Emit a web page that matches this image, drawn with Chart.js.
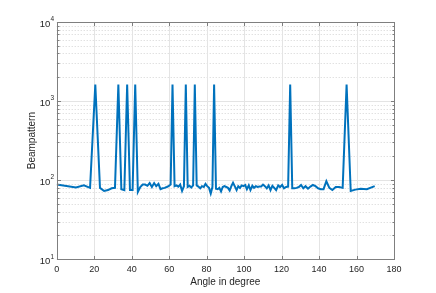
<!DOCTYPE html>
<html>
<head>
<meta charset="utf-8">
<script src="https://cdn.jsdelivr.net/npm/chart.js@4/dist/chart.umd.min.js"></script>
<style>
  body { margin: 0; background: #fff; }
  #wrap { width: 436px; height: 293px; position: relative; }
</style>
</head>
<body>
<div id="wrap"><canvas id="beam"></canvas></div>
<script>
// angle samples (deg) and beampattern values
var angles = [0, 10.3, 14.5, 17.8, 20.6, 23.1, 25.3, 27.4, 29.3, 31.1, 32.9, 34.5, 36.1, 37.6, 39.1, 40.5, 41.9, 43.3, 44.6, 45.9,
  47.2, 48.4, 49.6, 50.8, 52.0, 53.1, 54.3, 55.4, 56.5, 57.6, 58.7, 59.7, 60.8, 61.8, 62.9, 63.9, 64.9, 65.9, 66.9, 67.9,
  68.9, 69.9, 70.9, 71.8, 72.8, 73.7, 74.7, 75.6, 76.6, 77.5, 78.5, 79.4, 80.3, 81.3, 82.2, 83.1, 84.0, 85.0, 85.9, 86.8,
  87.7, 88.6, 89.5, 90.5, 91.4, 92.3, 93.2, 94.1, 95.0, 96.0, 96.9, 97.8, 98.7, 99.7, 100.6, 101.5, 102.5, 103.4, 104.4, 105.3,
  106.3, 107.2, 108.2, 109.1, 110.1, 111.1, 112.1, 113.1, 114.1, 115.1, 116.1, 117.1, 118.2, 119.2, 120.3, 121.3, 122.4, 123.5, 124.6, 125.7,
  126.9, 128.0, 129.2, 130.4, 131.6, 132.8, 134.1, 135.4, 136.7, 138.1, 139.5, 140.9, 142.4, 143.9, 145.5, 147.1, 148.9, 150.7, 152.6, 154.7,
  156.9, 159.4, 162.2, 165.5, 169.7];

var beam = [88, 81, 86, 80, 1620, 80, 73, 75, 79, 80, 1620, 77, 75, 1620, 75, 75, 1620, 71, 82, 88,
  88, 85, 92, 82, 92, 84, 90, 77, 79, 80, 82, 84, 88, 1620, 84, 86, 83, 88, 73, 84,
  1620, 82, 85, 81, 86, 1620, 86, 83, 79, 84, 82, 90, 84, 80, 68, 82, 1620, 78, 77, 80,
  72, 82, 84, 82, 80, 74, 84, 93, 84, 75, 84, 80, 86, 84, 87, 77, 86, 75, 85, 80,
  84, 82, 83, 83, 88, 84, 79, 86, 75, 85, 80, 75, 86, 82, 87, 79, 82, 83, 1620, 79,
  79, 80, 82, 87, 79, 84, 78, 83, 87, 84, 79, 77, 77, 97, 80, 75, 82, 82, 80, 1620,
  73, 76, 78, 77, 84];

var xTicks = [0, 20, 40, 60, 80, 100, 120, 140, 160, 180];
var yDecades = [10, 100, 1000, 10000];

var points = [];
for (var i = 0; i < angles.length; i++) {
  points.push({x: angles[i], y: beam[i]});
}

var font = '"Liberation Sans", Arial, Helvetica, sans-serif';

// matlab style axes: grid, box, inward ticks, 10^n labels
var matlabAxes = {
  id: 'matlabAxes',
  beforeDatasetsDraw: function(chart) {
    var ctx = chart.ctx, a = chart.chartArea, x = chart.scales.x, y = chart.scales.y;
    ctx.save();
    ctx.lineWidth = 1;
    ctx.strokeStyle = '#d4d4d4';
    ctx.setLineDash([1, 2]);
    for (var d = 0; d < yDecades.length - 1; d++) {
      for (var m = 2; m <= 9; m++) {
        var py = Math.round(y.getPixelForValue(yDecades[d] * m)) + 0.5;
        ctx.beginPath(); ctx.moveTo(a.left, py); ctx.lineTo(a.right, py); ctx.stroke();
      }
    }
    ctx.setLineDash([]);
    ctx.strokeStyle = '#e4e4e4';
    xTicks.forEach(function(v) {
      var px = Math.round(x.getPixelForValue(v)) + 0.5;
      ctx.beginPath(); ctx.moveTo(px, a.top); ctx.lineTo(px, a.bottom); ctx.stroke();
    });
    yDecades.forEach(function(v) {
      var py = Math.round(y.getPixelForValue(v)) + 0.5;
      ctx.beginPath(); ctx.moveTo(a.left, py); ctx.lineTo(a.right, py); ctx.stroke();
    });
    ctx.restore();
  },
  afterDatasetsDraw: function(chart) {
    var ctx = chart.ctx, a = chart.chartArea, x = chart.scales.x, y = chart.scales.y;
    var L = Math.round(a.left) + 0.5, R = Math.round(a.right) + 0.5;
    var T = Math.round(a.top) + 0.5, B = Math.round(a.bottom) + 0.5;
    ctx.save();
    ctx.lineWidth = 1;
    ctx.strokeStyle = '#7f7f7f';
    ctx.strokeRect(L, T, R - L, B - T);
    ctx.beginPath();
    xTicks.forEach(function(v) {
      var px = Math.round(x.getPixelForValue(v)) + 0.5;
      ctx.moveTo(px, B); ctx.lineTo(px, B - 3.5);
      ctx.moveTo(px, T); ctx.lineTo(px, T + 3.5);
    });
    for (var d = 0; d < yDecades.length; d++) {
      for (var m = 1; m <= 9; m++) {
        if (d === yDecades.length - 1 && m > 1) break;
        var py = Math.round(y.getPixelForValue(yDecades[d] * m)) + 0.5;
        var len = m === 1 ? 3.5 : 2;
        ctx.moveTo(L, py); ctx.lineTo(L + len, py);
        ctx.moveTo(R, py); ctx.lineTo(R - len, py);
      }
    }
    ctx.stroke();

    ctx.fillStyle = '#262626';
    ctx.textAlign = 'right';
    ctx.textBaseline = 'middle';
    yDecades.forEach(function(v) {
      var py = y.getPixelForValue(v);
      var ex = String(Math.round(Math.log10(v)));
      ctx.font = '6.5px ' + font;
      var w = ctx.measureText(ex).width;
      ctx.fillText(ex, a.left - 2.5, py - 2.5);
      ctx.font = '9.5px ' + font;
      ctx.fillText('10', a.left - 2.5 - w - 0.3, py + 2.5);
    });
    ctx.restore();
  }
};

var chart = new Chart(document.getElementById('beam'), {
  type: 'line',
  data: {
    datasets: [{
      label: 'Beampattern',
      data: points,
      borderColor: '#0072BD',
      borderWidth: 2,
      pointRadius: 0,
      tension: 0,
      fill: false
    }]
  },
  options: {
    responsive: true,
    maintainAspectRatio: false,
    animation: false,
    layout: { padding: { left: 0, right: 42, top: 22, bottom: 0 } },
    plugins: { legend: { display: false }, tooltip: { enabled: false } },
    scales: {
      x: {
        type: 'linear',
        min: 0, max: 180,
        grid: { display: false, drawTicks: false },
        border: { display: false },
        ticks: { stepSize: 20, color: '#262626', padding: 5, maxRotation: 0, font: { family: font, size: 9 } },
        title: { display: true, text: 'Angle in degree', color: '#262626', font: { family: font, size: 10 }, padding: { top: 0, bottom: 5 } },
        afterFit: function(s) { s.height = 33.7; }
      },
      y: {
        type: 'logarithmic',
        min: 10, max: 10000,
        grid: { display: false, drawTicks: false },
        border: { display: false },
        ticks: { display: false },
        afterBuildTicks: function(s) { s.ticks = yDecades.map(function(v) { return {value: v}; }); },
        title: { display: true, text: 'Beampattern', color: '#262626', font: { family: font, size: 10 }, padding: { top: 26, bottom: 0 } },
        afterFit: function(s) { s.width = 56.7; }
      }
    }
  },
  plugins: [matlabAxes]
});
</script>
</body>
</html>
